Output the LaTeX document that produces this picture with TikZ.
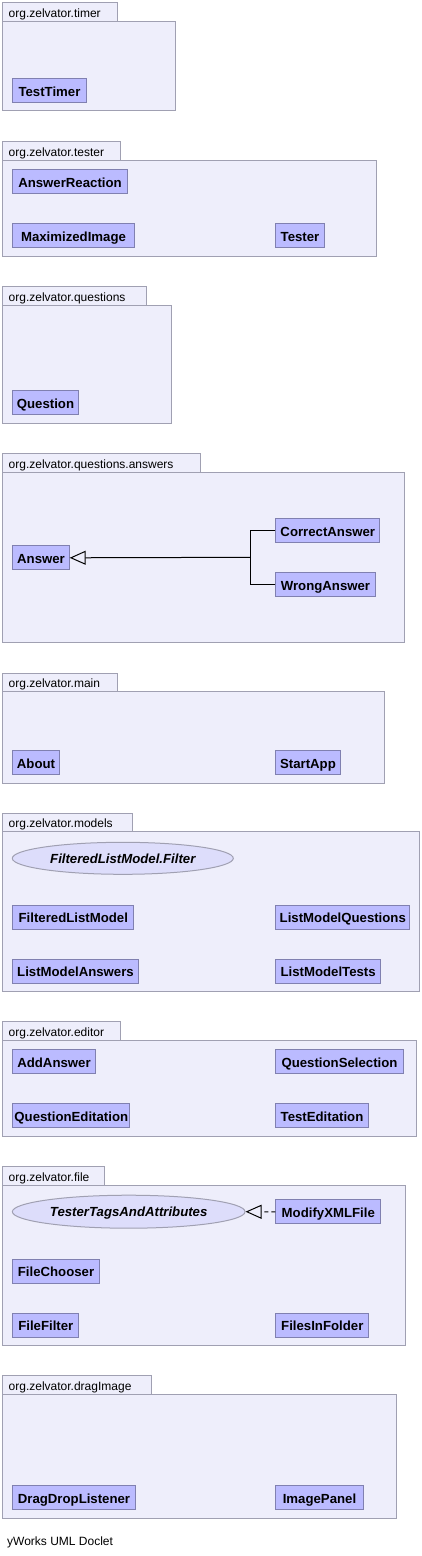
\documentclass[tikz,border=0pt]{standalone}
\usepackage{fontspec}
\setmainfont{Liberation Sans}
\usetikzlibrary{shapes.geometric,arrows.meta}

\definecolor{pkgfill}{RGB}{238,238,251}
\definecolor{pkgline}{RGB}{160,160,178}
\definecolor{clsfill}{RGB}{187,187,255}
\definecolor{clsline}{RGB}{128,128,176}
\definecolor{ifcfill}{RGB}{221,221,251}

\tikzset{
  pkg/.style={draw=pkgline, fill=pkgfill, line width=1pt},
  pkgname/.style={anchor=base west, inner sep=0pt, font=\fontsize{12}{14}\selectfont},
  cls/.style={draw=clsline, fill=clsfill, line width=1pt, anchor=north west,
    minimum height=24pt, inner sep=0pt, text height=11.5pt, text depth=1pt,
    font=\bfseries\fontsize{13.2}{15}\selectfont},
  ifc/.style={ellipse, draw=pkgline, fill=ifcfill, line width=1pt, inner sep=0pt,
    text height=9.5pt, text depth=0pt,
    font=\bfseries\itshape\fontsize{13.2}{15}\selectfont},
  gen/.style={line width=1pt, -{Triangle[open, length=16pt, width=14pt]}},
  realize/.style={gen, dash pattern=on 4pt off 3pt},
}

\begin{document}
\begin{tikzpicture}[x=1pt, y=-1pt]
  \useasboundingbox (0,0) rectangle (422,1556);

  % org.zelvator.timer
  \draw[pkg] (2.5,2.5) rectangle (117,21);
  \draw[pkg] (2.5,21) rectangle (175.5,110.5);
  \node[pkgname] (timer) at (8.5,17) {org.zelvator.timer};
  \node[cls, minimum width=73.4pt] (testtimer) at (12.3,78.3) {TestTimer};

  % org.zelvator.tester
  \draw[pkg] (2.5,141.5) rectangle (120.5,160.5);
  \draw[pkg] (2.5,160.5) rectangle (376.5,256.5);
  \node[pkgname] (tester) at (8.5,156) {org.zelvator.tester};
  \node[cls, minimum width=114.4pt] (answerreaction) at (12.3,169.3) {AnswerReaction};
  \node[cls, minimum width=121.4pt] (maximizedimage) at (12.3,223.3) {MaximizedImage};
  \node[cls, minimum width=48.4pt] (testerclass) at (275.3,223.3) {Tester};

  % org.zelvator.questions
  \draw[pkg] (2.5,286.5) rectangle (146.5,305.5);
  \draw[pkg] (2.5,305.5) rectangle (171.5,423.5);
  \node[pkgname] (questions) at (8.5,301) {org.zelvator.questions};
  \node[cls, minimum width=65.4pt] (question) at (12.3,390.3) {Question};

  % org.zelvator.questions.answers
  \draw[pkg] (2.5,453.5) rectangle (200.5,472.5);
  \draw[pkg] (2.5,472.5) rectangle (404.5,642.5);
  \node[pkgname] (answers) at (8.5,468) {org.zelvator.questions.answers};
  \node[cls, minimum width=56.4pt] (answer) at (12.3,545.3) {Answer};
  \node[cls, minimum width=104pt] (correctanswer) at (275.3,518.3) {CorrectAnswer};
  \node[cls, minimum width=99.4pt] (wronganswer) at (275.3,572.3) {WrongAnswer};
  \coordinate (answerjoin) at (250.3,557.3);
  \draw[line width=1pt] (correctanswer.west) -| (answerjoin);
  \draw[line width=1pt] (wronganswer.west) -| (answerjoin);
  \draw[gen] (answerjoin) -- (answer.east);

  % org.zelvator.main
  \draw[pkg] (2.5,673.5) rectangle (117.5,691.5);
  \draw[pkg] (2.5,691.5) rectangle (384.5,783);
  \node[pkgname] (main) at (8.5,687) {org.zelvator.main};
  \node[cls, minimum width=46.4pt] (about) at (12.3,750.3) {About};
  \node[cls, minimum width=64.4pt] (startapp) at (275.3,750.3) {StartApp};

  % org.zelvator.models
  \draw[pkg] (2.5,813.5) rectangle (132.5,831.5);
  \draw[pkg] (2.5,831.5) rectangle (419.5,991);
  \node[pkgname] (models) at (8.5,827) {org.zelvator.models};
  \node[ifc, minimum width=221pt, minimum height=32pt] (listfilter) at (122.8,858.3) {FilteredListModel.Filter};
  \node[cls, minimum width=121pt] (filteredlistmodel) at (12.3,904.5) {FilteredListModel};
  \node[cls, minimum width=134pt] (listmodelquestions) at (275.3,904.5) {ListModelQuestions};
  \node[cls, minimum width=125.4pt] (listmodelanswers) at (12.3,958.5) {ListModelAnswers};
  \node[cls, minimum width=104.7pt] (listmodeltests) at (275.3,958.5) {ListModelTests};

  % org.zelvator.editor
  \draw[pkg] (2.5,1021.5) rectangle (120.5,1040.5);
  \draw[pkg] (2.5,1040.5) rectangle (416.5,1136.5);
  \node[pkgname] (editor) at (8.5,1036) {org.zelvator.editor};
  \node[cls, minimum width=82.4pt] (addanswer) at (12.3,1049.3) {AddAnswer};
  \node[cls, minimum width=127.4pt] (questionselection) at (275.3,1049.3) {QuestionSelection};
  \node[cls, minimum width=117pt] (questioneditation) at (12.3,1103.3) {QuestionEditation};
  \node[cls, minimum width=92.4pt] (testeditation) at (275.3,1103.3) {TestEditation};

  % org.zelvator.file
  \draw[pkg] (2.5,1166.5) rectangle (104.5,1185.5);
  \draw[pkg] (2.5,1185.5) rectangle (405.5,1345);
  \node[pkgname] (file) at (8.5,1181) {org.zelvator.file};
  \node[ifc, minimum width=232.7pt, minimum height=33pt] (tagsattrs) at (128.7,1211.7) {TesterTagsAndAttributes};
  \node[cls, minimum width=105pt] (modifyxmlfile) at (275.3,1199.3) {ModifyXMLFile};
  \node[cls, minimum width=86.4pt] (filechooser) at (12.3,1258.7) {FileChooser};
  \node[cls, minimum width=66pt] (filefilter) at (12.3,1312.7) {FileFilter};
  \node[cls, minimum width=93pt] (filesinfolder) at (275.3,1312.7) {FilesInFolder};
  \draw[realize] (modifyxmlfile.west) -- (tagsattrs.east);

  % org.zelvator.dragImage
  \draw[pkg] (2.5,1375.5) rectangle (151.5,1394.5);
  \draw[pkg] (2.5,1394.5) rectangle (396.5,1518.5);
  \node[pkgname] (dragimage) at (8.5,1390) {org.zelvator.dragImage};
  \node[cls, minimum width=122.4pt] (dragdroplistener) at (12.3,1485.3) {DragDropListener};
  \node[cls, minimum width=87.4pt] (imagepanel) at (275.3,1485.3) {ImagePanel};

  \node[pkgname] (doclet) at (7,1545) {yWorks UML Doclet};
\end{tikzpicture}
\end{document}
